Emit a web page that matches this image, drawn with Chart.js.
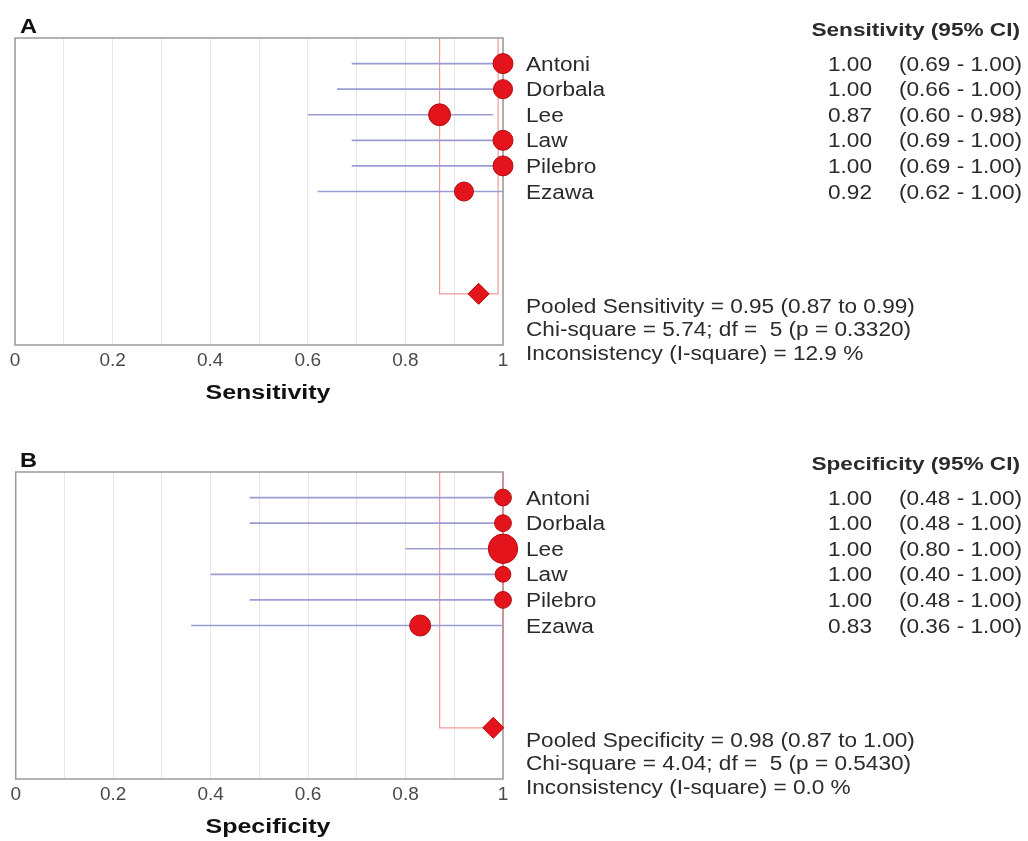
<!DOCTYPE html>
<html>
<head>
<meta charset="utf-8">
<script src="https://cdn.jsdelivr.net/npm/chart.js@4.4.1/dist/chart.umd.min.js"></script>
<style>
  html, body { margin: 0; padding: 0; background: #fff; overflow: hidden; }
  .panel { position: absolute; left: 0; width: 1028px; height: 420px; }
</style>
</head>
<body>
<div class="panel" style="top:0"><canvas id="chartA"></canvas></div>
<div class="panel" style="top:434px"><canvas id="chartB"></canvas></div>
<script>
// studies, top to bottom
var studies = ['Antoni', 'Dorbala', 'Lee', 'Law', 'Pilebro', 'Ezawa'];

// A: sensitivity
var sensEst = [1.00, 1.00, 0.87, 1.00, 1.00, 0.92];
var sensLo = [0.69, 0.66, 0.60, 0.69, 0.69, 0.62];
var sensHi = [1.00, 1.00, 0.98, 1.00, 1.00, 1.00];
var sensWeight = [16.6, 15.1, 19.9, 16.6, 16.6, 15.1]; // relative study weight (%)
var sensPooled = [0.95, 0.87, 0.99]; // estimate, lower, upper
var sensStats = ['Pooled Sensitivity = 0.95 (0.87 to 0.99)',
                 'Chi-square = 5.74; df =  5 (p = 0.3320)',
                 'Inconsistency (I-square) = 12.9 %'];

// B: specificity
var specEst = [1.00, 1.00, 1.00, 1.00, 1.00, 0.83];
var specLo = [0.48, 0.48, 0.80, 0.40, 0.48, 0.36];
var specHi = [1.00, 1.00, 1.00, 1.00, 1.00, 1.00];
var specWeight = [11.8, 11.8, 36.0, 10.3, 11.8, 18.4];
var specPooled = [0.98, 0.87, 1.00];
var specStats = ['Pooled Specificity = 0.98 (0.87 to 1.00)',
                 'Chi-square = 4.04; df =  5 (p = 0.5430)',
                 'Inconsistency (I-square) = 0.0 %'];

var xTicks = [0, 0.2, 0.4, 0.6, 0.8, 1];

var FONT = '"Liberation Sans", Arial, sans-serif';
var TEXT = '#2b2b2b';
var POOLED_ROW = 10;

// the original figure is a bit stretched sideways, so text gets a horizontal scale
function wideText(ctx, str, x, y, hs) {
  ctx.save();
  ctx.translate(x, y);
  ctx.scale(hs, 1);
  ctx.fillText(str, 0, 0);
  ctx.restore();
}

function makePanel(id, letter, header, axisTitle, est, lo, hi, weight, pooled, stats) {
  var datasets = [];

  datasets.push({
    data: [{ x: pooled[0], y: POOLED_ROW }],
    pointStyle: 'rectRot',
    pointRadius: 10.5,
    backgroundColor: '#e3141b',
    borderColor: '#c00000',
    borderWidth: 1,
    clip: false
  });

  datasets.push({
    data: est.map(function (v, i) { return { x: v, y: i + 1 }; }),
    pointRadius: weight.map(function (w) { return 2.45 * Math.sqrt(w); }),
    backgroundColor: '#e3141b',
    borderColor: '#b30c10',
    borderWidth: 1,
    clip: false
  });

  studies.forEach(function (s, i) {
    datasets.push({
      data: [{ x: lo[i], y: i + 1 }, { x: hi[i], y: i + 1 }],
      showLine: true,
      borderColor: '#9c9cd4',
      borderWidth: 1.6,
      pointRadius: 0
    });
  });

  // pooled CI bracket
  datasets.push({
    data: [{ x: pooled[1], y: 0 }, { x: pooled[1], y: POOLED_ROW },
           { x: pooled[2], y: POOLED_ROW }, { x: pooled[2], y: 0 }],
    showLine: true,
    borderColor: 'rgba(232,120,120,0.75)',
    borderWidth: 1.2,
    pointRadius: 0,
    clip: false
  });

  var framePlugin = {
    id: 'frame',
    beforeDatasetsDraw: function (chart) {
      var ctx = chart.ctx, a = chart.chartArea;
      ctx.save();
      ctx.strokeStyle = '#9a9a9a';
      ctx.lineWidth = 1.5;
      ctx.strokeRect(a.left, a.top, a.right - a.left, a.bottom - a.top);
      ctx.restore();
    }
  };

  var textPlugin = {
    id: 'forestText',
    afterDraw: function (chart) {
      var ctx = chart.ctx;
      var area = chart.chartArea;
      var ys = chart.scales.y;
      ctx.save();

      ctx.fillStyle = '#111';
      ctx.font = 'bold 20px ' + FONT;
      ctx.textAlign = 'left';
      ctx.textBaseline = 'alphabetic';
      wideText(ctx, letter, 20, area.top - 5, 1.18);

      ctx.fillStyle = TEXT;
      ctx.font = 'bold 19px ' + FONT;
      ctx.textAlign = 'right';
      ctx.textBaseline = 'middle';
      wideText(ctx, header, 1020, area.top - 7, 1.19);

      ctx.font = '20px ' + FONT;
      studies.forEach(function (s, i) {
        var y = ys.getPixelForValue(i + 1) + 1.5;
        ctx.textAlign = 'left';
        wideText(ctx, s, 526, y, 1.13);
        ctx.textAlign = 'right';
        wideText(ctx, est[i].toFixed(2), 872, y, 1.13);
        wideText(ctx, '(' + lo[i].toFixed(2) + ' - ' + hi[i].toFixed(2) + ')', 1022, y, 1.13);
      });

      ctx.textAlign = 'left';
      stats.forEach(function (t, k) {
        wideText(ctx, t, 526, ys.getPixelForValue(10.45 + k * 0.92) + 2, 1.13);
      });

      ctx.fillStyle = '#111';
      ctx.font = 'bold 20px ' + FONT;
      ctx.textAlign = 'center';
      wideText(ctx, axisTitle, 268, area.bottom + 48, 1.25);
      ctx.restore();
    }
  };

  return new Chart(document.getElementById(id), {
    type: 'scatter',
    data: { datasets: datasets },
    options: {
      responsive: true,
      maintainAspectRatio: false,
      animation: false,
      layout: { padding: { left: 15, right: 525, top: 38, bottom: 5 } },
      plugins: { legend: { display: false }, tooltip: { enabled: false } },
      scales: {
        x: {
          type: 'linear',
          min: 0,
          max: 1,
          afterFit: function (scale) { scale.height = 70; },
          afterBuildTicks: function (scale) {
            var t = [];
            for (var k = 0; k <= 10; k++) t.push({ value: k / 10 });
            scale.ticks = t;
          },
          grid: { color: '#e6e6ef', lineWidth: 1, drawTicks: false },
          border: { display: false },
          ticks: {
            autoSkip: false,
            maxRotation: 0,
            padding: 4,
            color: '#4a4a4a',
            font: { family: FONT, size: 19 },
            callback: function (v) {
              var hit = xTicks.filter(function (t) { return Math.abs(t - v) < 1e-6; });
              return hit.length ? String(hit[0]) : '';
            }
          }
        },
        y: {
          type: 'linear',
          display: false,
          min: 0,
          max: 12,
          reverse: true
        }
      }
    },
    plugins: [framePlugin, textPlugin]
  });
}

makePanel('chartA', 'A', 'Sensitivity (95% CI)', 'Sensitivity',
  sensEst, sensLo, sensHi, sensWeight, sensPooled, sensStats);
makePanel('chartB', 'B', 'Specificity (95% CI)', 'Specificity',
  specEst, specLo, specHi, specWeight, specPooled, specStats);
</script>
</body>
</html>
